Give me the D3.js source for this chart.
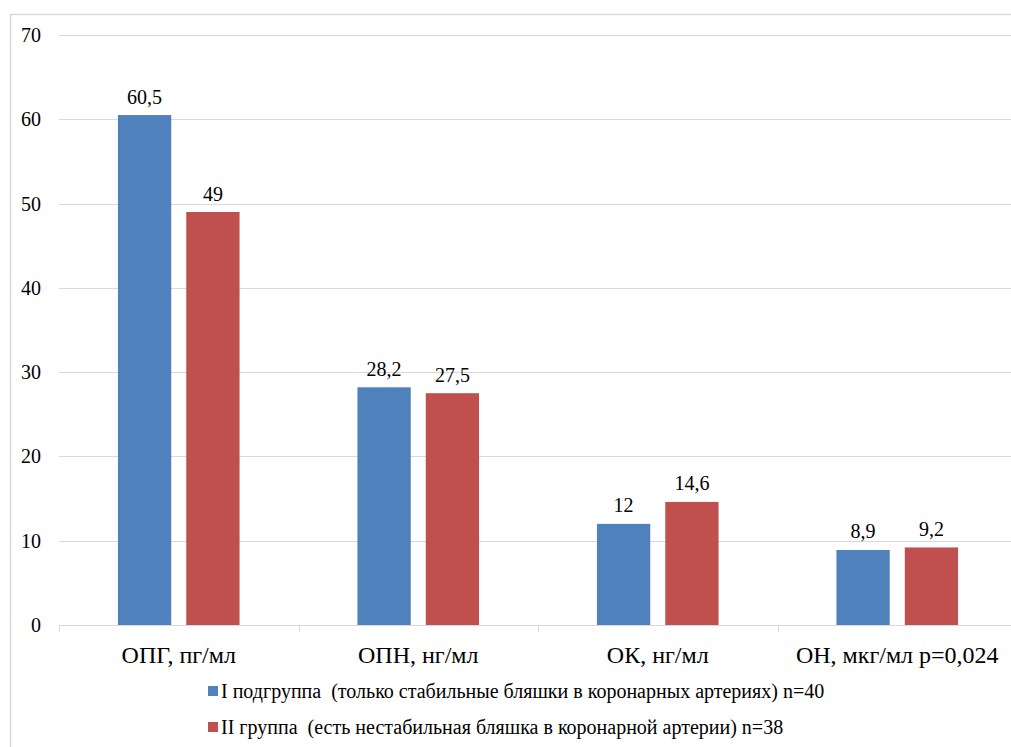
<!DOCTYPE html>
<html>
<head>
<meta charset="utf-8">
<script src="https://cdn.jsdelivr.net/npm/d3@7"></script>
<style>
  html, body { margin: 0; padding: 0; background: #fff; }
  svg { display: block; }
  svg text { font-family: "Liberation Serif", "Times New Roman", serif !important; }
</style>
</head>
<body>
<svg id="chart" width="1011" height="747"></svg>
<script>
// Biomarker categories and group means
const categories = ["ОПГ, пг/мл", "ОПН, нг/мл", "ОК, нг/мл", "ОН, мкг/мл p=0,024"];
const group1Values = [60.5, 28.2, 12, 8.9];
const group2Values = [49, 27.5, 14.6, 9.2];
const valueLabels1 = ["60,5", "28,2", "12", "8,9"];
const valueLabels2 = ["49", "27,5", "14,6", "9,2"];
const seriesNames = [
  "I подгруппа  (только стабильные бляшки в коронарных артериях) n=40",
  "II группа  (есть нестабильная бляшка в коронарной артерии) n=38"
];
const seriesColors = ["#4F81BD", "#C0504D"];
const yTicks = [0, 10, 20, 30, 40, 50, 60, 70];

const FONT = "'Liberation Serif', 'Times New Roman', serif";
const svg = d3.select("#chart");

function styleText(sel, size) {
  return sel
    .style("font-family", FONT, "important")
    .style("font-size", size + "px")
    .attr("fill", "#000");
}

// outer frame
svg.append("rect")
  .attr("x", 10.5).attr("y", 14.5)
  .attr("width", 1012).attr("height", 745)
  .attr("fill", "none").attr("stroke", "#d9d9d9").attr("stroke-width", 1.5);

const plot = { left: 59, right: 1017, top: 35, bottom: 625 };

const x = d3.scaleBand().domain(categories).range([plot.left, plot.right]).padding(0);
const y = d3.scaleLinear().domain([0, 70]).range([plot.bottom, plot.top]);
const xInner = d3.scaleBand().domain([0, 1])
  .range([x.bandwidth() / 2 - 60.8, x.bandwidth() / 2 + 60.8]).paddingInner(0.22);

// horizontal grid
svg.append("g")
  .selectAll("line").data(yTicks).join("line")
  .attr("x1", plot.left).attr("x2", plot.right)
  .attr("y1", d => Math.round(y(d)) + 0.5).attr("y2", d => Math.round(y(d)) + 0.5)
  .attr("stroke", "#d9d9d9").attr("stroke-width", 1);

// y axis labels
styleText(svg.append("g")
  .selectAll("text").data(yTicks).join("text")
  .attr("x", 41).attr("y", d => y(d) + 7)
  .attr("text-anchor", "end")
  .text(d => d), 20);

// category separator ticks
const sepX = categories.map(c => x(c)).concat([plot.right]);
svg.append("g")
  .selectAll("line").data(sepX).join("line")
  .attr("x1", d => Math.round(d) + 0.5).attr("x2", d => Math.round(d) + 0.5)
  .attr("y1", plot.bottom).attr("y2", plot.bottom + 7)
  .attr("stroke", "#d9d9d9").attr("stroke-width", 1);

// bars with value labels
const series = [group1Values, group2Values];
const labels = [valueLabels1, valueLabels2];
series.forEach((vals, si) => {
  const g = svg.append("g");
  g.selectAll("rect").data(vals).join("rect")
    .attr("x", (d, i) => x(categories[i]) + xInner(si))
    .attr("y", d => y(d))
    .attr("width", xInner.bandwidth())
    .attr("height", d => y(0) - y(d))
    .attr("fill", seriesColors[si]);
  styleText(g.selectAll("text").data(vals).join("text")
    .attr("x", (d, i) => x(categories[i]) + xInner(si) + xInner.bandwidth() / 2)
    .attr("y", d => y(d) - 11.5)
    .attr("text-anchor", "middle")
    .text((d, i) => labels[si][i]), 20);
});

// category labels
styleText(svg.append("g")
  .selectAll("text").data(categories).join("text")
  .attr("x", d => x(d) + x.bandwidth() / 2)
  .attr("y", 663)
  .attr("text-anchor", "middle")
  .text(d => d), 24);

// legend
const legendRows = [698, 734];
seriesNames.forEach((name, i) => {
  svg.append("rect")
    .attr("x", 208).attr("y", legendRows[i] - 12)
    .attr("width", 10).attr("height", 10)
    .attr("fill", seriesColors[i]);
  styleText(svg.append("text")
    .attr("x", 221).attr("y", legendRows[i])
    .attr("xml:space", "preserve")
    .style("white-space", "pre")
    .text(name), 20);
});
</script>
</body>
</html>
